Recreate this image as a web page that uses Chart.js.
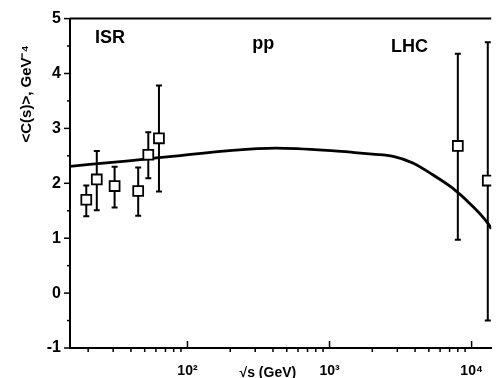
<!DOCTYPE html>
<html>
<head>
<meta charset="utf-8">
<script src="https://cdn.jsdelivr.net/npm/chart.js@4/dist/chart.umd.min.js"></script>
<style>
  html, body { margin: 0; padding: 0; background: #fff; }
  #wrap { width: 500px; height: 378px; }
</style>
</head>
<body>
<div id="wrap"><canvas id="chart"></canvas></div>
<script>
// ISR points (sqrt(s) in GeV) and their error bars
const isrEnergy = [19.4, 23, 30.7, 45, 53, 63];
const isrValue  = [1.70, 2.07, 1.95, 1.86, 2.52, 2.82];
const isrLow    = [1.40, 1.51, 1.56, 1.41, 2.09, 1.85];
const isrHigh   = [1.96, 2.59, 2.30, 2.29, 2.93, 3.78];

// LHC points
const lhcEnergy = [8000, 13000];
const lhcValue  = [2.68, 2.05];
const lhcLow    = [0.97, -0.50];
const lhcHigh   = [4.36, 4.57];

// model curve
const curveEnergy = [14.9, 38.6, 85, 189, 418, 1083, 1500, 2000, 2806, 3857, 5297, 7278, 10000, 13100, 13740];
const curveValue  = [2.31, 2.41, 2.50, 2.59, 2.64, 2.59, 2.56, 2.53, 2.49, 2.37, 2.16, 1.92, 1.60, 1.26, 1.17];

// axes
const xMin = 14.9, xMax = 13740;
const yMin = -1, yMax = 5;
const xMajorTicks = [100, 1000, 10000];
const xTickLabels = ['10\u00B2', '10\u00B3', '10\u2074'];
const yMajorTicks = [-1, 0, 1, 2, 3, 4, 5];

// in-plot labels (data coords)
const noteText = ['ISR', 'pp', 'LHC'];
const noteX    = [28.5, 342, 3650];
const noteY    = [4.55, 4.45, 4.39];

const FONT = '"Liberation Sans", Arial, sans-serif';

function toPoints(xs, ys) {
  return xs.map((x, i) => ({x: x, y: ys[i]}));
}

const errorBars = {
  id: 'errorBars',
  beforeDatasetsDraw(chart) {
    const ctx = chart.ctx;
    const xs = chart.scales.x, ys = chart.scales.y;
    const sets = [[isrEnergy, isrLow, isrHigh], [lhcEnergy, lhcLow, lhcHigh]];
    ctx.save();
    ctx.strokeStyle = '#000';
    ctx.lineWidth = 2;
    sets.forEach(([e, lo, hi]) => {
      e.forEach((v, i) => {
        const px = xs.getPixelForValue(v);
        const y1 = ys.getPixelForValue(lo[i]);
        const y2 = ys.getPixelForValue(hi[i]);
        ctx.beginPath();
        ctx.moveTo(px, y1); ctx.lineTo(px, y2);
        ctx.moveTo(px - 3, y1); ctx.lineTo(px + 3, y1);
        ctx.moveTo(px - 3, y2); ctx.lineTo(px + 3, y2);
        ctx.stroke();
      });
    });
    ctx.restore();
  }
};

const frameAndText = {
  id: 'frameAndText',
  afterDraw(chart) {
    const ctx = chart.ctx;
    const area = chart.chartArea;
    const xs = chart.scales.x, ys = chart.scales.y;
    ctx.save();
    ctx.strokeStyle = '#000';
    ctx.lineWidth = 2;
    // top frame line
    ctx.beginPath();
    ctx.moveTo(area.left, area.top);
    ctx.lineTo(area.right, area.top);
    ctx.stroke();

    // y ticks: majors outward, minors outward shorter
    ctx.lineWidth = 1.5;
    yMajorTicks.forEach(v => {
      const py = ys.getPixelForValue(v);
      ctx.beginPath(); ctx.moveTo(area.left - 6, py); ctx.lineTo(area.left, py); ctx.stroke();
      if (v < yMax) {
        const pm = ys.getPixelForValue(v + 0.5);
        ctx.beginPath(); ctx.moveTo(area.left - 3, pm); ctx.lineTo(area.left, pm); ctx.stroke();
      }
    });

    // x ticks: majors inward, minors outward
    xMajorTicks.forEach(v => {
      const px = xs.getPixelForValue(v);
      ctx.beginPath(); ctx.moveTo(px, area.bottom); ctx.lineTo(px, area.bottom - 7); ctx.stroke();
    });
    [10, 100, 1000].forEach(dec => {
      for (let k = 2; k <= 9; k++) {
        const v = dec * k;
        if (v < xMin || v > xMax) continue;
        const px = xs.getPixelForValue(v);
        ctx.beginPath(); ctx.moveTo(px, area.bottom); ctx.lineTo(px, area.bottom + 4); ctx.stroke();
      }
    });

    // notes inside plot
    ctx.fillStyle = '#000';
    ctx.font = 'bold 18px ' + FONT;
    ctx.textAlign = 'center';
    ctx.textBaseline = 'alphabetic';
    noteText.forEach((t, i) => {
      ctx.fillText(t, xs.getPixelForValue(noteX[i]), ys.getPixelForValue(noteY[i]));
    });

    // x axis title, on the tick label row
    ctx.font = 'bold 14px ' + FONT;
    ctx.fillText('\u221As (GeV)', xs.getPixelForValue(368), 377);

    // y axis title
    ctx.translate(31, ys.getPixelForValue(3.63));
    ctx.rotate(-Math.PI / 2);
    ctx.textAlign = 'center';
    ctx.font = 'bold 15px ' + FONT;
    ctx.fillText('<C(s)>, GeV\u207B\u2074', 0, 0);
    ctx.restore();
  }
};

new Chart(document.getElementById('chart'), {
  type: 'scatter',
  data: {
    datasets: [
      {
        label: 'model',
        data: toPoints(curveEnergy, curveValue),
        showLine: true,
        borderColor: '#000',
        borderWidth: 2.8,
        pointRadius: 0,
        cubicInterpolationMode: 'monotone',
        fill: false,
        order: 2
      },
      {
        label: 'ISR',
        data: toPoints(isrEnergy, isrValue),
        pointStyle: 'rect',
        pointRadius: 7,
        pointBackgroundColor: '#fff',
        pointBorderColor: '#000',
        pointBorderWidth: 1.8,
        order: 1
      },
      {
        label: 'LHC',
        data: toPoints(lhcEnergy, lhcValue),
        pointStyle: 'rect',
        pointRadius: 7,
        pointBackgroundColor: '#fff',
        pointBorderColor: '#000',
        pointBorderWidth: 1.8,
        order: 1
      }
    ]
  },
  options: {
    responsive: true,
    maintainAspectRatio: false,
    animation: false,
    layout: { padding: { top: 11, right: 0, left: 0, bottom: 0 } },
    plugins: { legend: { display: false }, tooltip: { enabled: false } },
    scales: {
      x: {
        type: 'logarithmic',
        min: xMin,
        max: xMax,
        afterBuildTicks: s => { s.ticks = xMajorTicks.map(v => ({value: v})); },
        afterFit: s => { s.height = 30; },
        grid: { display: false, drawTicks: false },
        border: { display: true, color: '#000', width: 2 },
        ticks: {
          color: '#000',
          padding: 15,
          maxRotation: 0,
          autoSkip: false,
          font: { family: FONT, size: 14, weight: 'bold' },
          callback: (v) => xTickLabels[xMajorTicks.indexOf(v)]
        }
      },
      y: {
        min: yMin,
        max: yMax,
        afterFit: s => { s.width = 70; },
        grid: { display: false, drawTicks: false },
        border: { display: true, color: '#000', width: 2 },
        ticks: {
          stepSize: 1,
          color: '#000',
          padding: 9,
          font: { family: FONT, size: 16, weight: 'bold' }
        }
      }
    }
  },
  plugins: [errorBars, frameAndText]
});
</script>
</body>
</html>
